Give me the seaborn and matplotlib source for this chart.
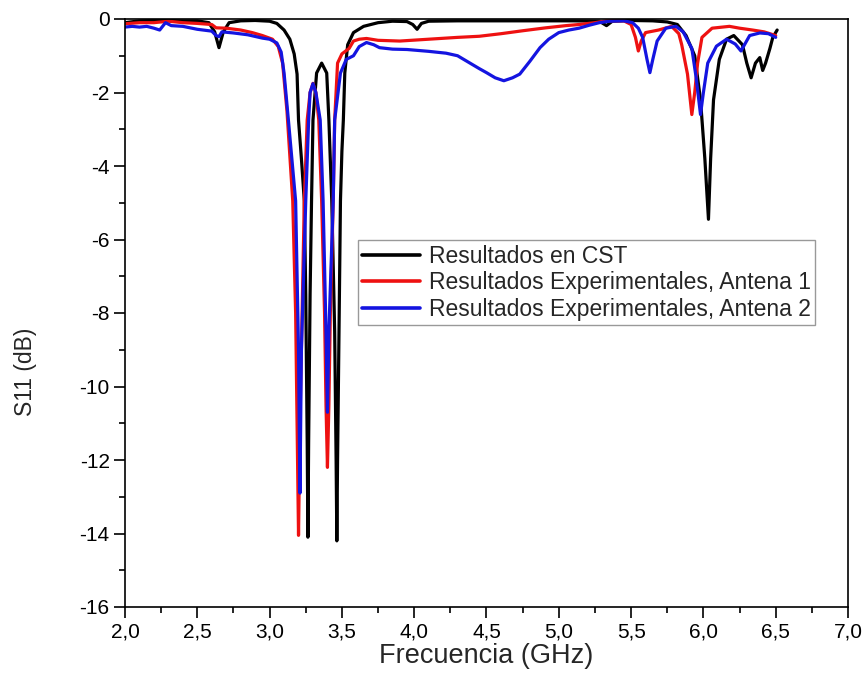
import matplotlib
matplotlib.use("Agg")
import matplotlib.pyplot as plt
from matplotlib.ticker import MultipleLocator, FuncFormatter
import seaborn as sns
import pandas as pd

# ---- data ----
freq_cst = [2.00, 2.10, 2.20, 2.30, 2.40, 2.50, 2.58, 2.62, 2.65, 2.68, 2.72, 2.80, 2.90,
            3.00, 3.05, 3.10, 3.14, 3.17, 3.19, 3.20, 3.22, 3.24, 3.25, 3.26, 3.265, 3.27,
            3.28, 3.29, 3.30, 3.325, 3.36, 3.395, 3.41, 3.43, 3.45, 3.46, 3.465, 3.47, 3.48,
            3.49, 3.50, 3.51, 3.52, 3.54, 3.58, 3.65, 3.75, 3.85, 3.95, 3.99, 4.02, 4.05,
            4.10, 4.30, 4.50, 4.70, 4.90, 5.10, 5.28, 5.33, 5.37, 5.50, 5.65, 5.75, 5.82,
            5.88, 5.94, 5.98, 6.01, 6.035, 6.05, 6.07, 6.11, 6.16, 6.21, 6.27, 6.30, 6.33,
            6.36, 6.39, 6.41, 6.43, 6.46, 6.48, 6.51]
s11_cst = [-0.10, -0.05, -0.04, -0.04, -0.05, -0.05, -0.10, -0.35, -0.78, -0.35, -0.10, -0.05, -0.04,
           -0.06, -0.12, -0.30, -0.55, -0.95, -1.50, -2.75, -3.80, -4.95, -7.50, -11.5, -14.1, -11.5,
           -7.50, -4.95, -2.75, -1.47, -1.20, -1.47, -2.75, -4.95, -8.50, -12.0, -14.2, -12.0, -8.50,
           -4.95, -3.60, -2.75, -1.47, -0.70, -0.37, -0.20, -0.10, -0.06, -0.07, -0.15, -0.28, -0.12,
           -0.06, -0.05, -0.05, -0.05, -0.05, -0.05, -0.06, -0.18, -0.06, -0.04, -0.05, -0.08, -0.15,
           -0.45, -1.00, -2.20, -3.80, -5.45, -3.80, -2.20, -1.10, -0.55, -0.45, -0.70, -1.20, -1.60,
           -1.20, -1.05, -1.40, -1.20, -0.80, -0.50, -0.30]

freq_ant1 = [2.00, 2.10, 2.20, 2.30, 2.40, 2.50, 2.60, 2.63, 2.70, 2.80, 2.88, 2.95, 3.02,
             3.06, 3.09, 3.12, 3.16, 3.18, 3.19, 3.20, 3.21, 3.22, 3.24, 3.26, 3.28, 3.30,
             3.32, 3.34, 3.36, 3.38, 3.39, 3.40, 3.41, 3.42, 3.44, 3.45, 3.47, 3.50, 3.55,
             3.58, 3.62, 3.67, 3.75, 3.90, 4.10, 4.30, 4.45, 4.60, 4.75, 4.91, 5.05, 5.14,
             5.25, 5.33, 5.45, 5.50, 5.53, 5.55, 5.57, 5.60, 5.69, 5.78, 5.83, 5.85, 5.89,
             5.92, 5.94, 5.96, 5.99, 6.06, 6.18, 6.25, 6.34, 6.42, 6.50]
s11_ant1 = [-0.13, -0.10, -0.10, -0.06, -0.10, -0.12, -0.15, -0.24, -0.25, -0.30, -0.37, -0.45, -0.55,
            -0.75, -1.20, -2.50, -4.95, -8.00, -11.0, -14.05, -11.0, -9.00, -4.95, -2.75, -2.00, -1.75,
            -2.00, -2.75, -4.95, -8.00, -10.5, -12.2, -10.5, -8.00, -4.95, -2.75, -1.20, -0.95, -0.80,
            -0.60, -0.55, -0.53, -0.58, -0.60, -0.55, -0.50, -0.47, -0.40, -0.32, -0.24, -0.18, -0.15,
            -0.10, -0.05, -0.05, -0.15, -0.50, -0.87, -0.60, -0.37, -0.30, -0.20, -0.40, -0.70, -1.50,
            -2.60, -2.00, -1.20, -0.50, -0.25, -0.20, -0.25, -0.30, -0.35, -0.45]

freq_ant2 = [2.00, 2.05, 2.10, 2.15, 2.20, 2.24, 2.28, 2.32, 2.40, 2.50, 2.60, 2.63, 2.65,
             2.67, 2.75, 2.85, 2.95, 3.00, 3.05, 3.08, 3.10, 3.13, 3.18, 3.20, 3.21, 3.22,
             3.25, 3.27, 3.28, 3.30, 3.32, 3.35, 3.37, 3.39, 3.40, 3.41, 3.44, 3.45, 3.49,
             3.53, 3.58, 3.62, 3.67, 3.72, 3.76, 3.85, 3.95, 4.10, 4.22, 4.30, 4.36, 4.45,
             4.50, 4.56, 4.62, 4.68, 4.73, 4.80, 4.87, 4.93, 5.00, 5.07, 5.14, 5.21, 5.28,
             5.35, 5.45, 5.51, 5.55, 5.58, 5.61, 5.63, 5.65, 5.68, 5.74, 5.81, 5.86, 5.92,
             5.95, 5.98, 6.00, 6.03, 6.09, 6.16, 6.22, 6.26, 6.32, 6.39, 6.45, 6.50]
s11_ant2 = [-0.22, -0.20, -0.22, -0.20, -0.25, -0.30, -0.10, -0.18, -0.20, -0.28, -0.33, -0.45, -0.48,
            -0.35, -0.38, -0.43, -0.52, -0.55, -0.65, -0.90, -1.47, -2.75, -4.95, -9.00, -12.9, -9.00,
            -4.95, -2.75, -2.00, -1.76, -2.00, -2.75, -4.95, -8.50, -10.7, -8.50, -4.95, -2.75, -1.47,
            -1.10, -1.00, -0.75, -0.64, -0.70, -0.78, -0.82, -0.83, -0.88, -0.93, -1.00, -1.14, -1.35,
            -1.46, -1.60, -1.68, -1.60, -1.50, -1.15, -0.78, -0.55, -0.37, -0.30, -0.25, -0.17, -0.10,
            -0.06, -0.05, -0.10, -0.25, -0.50, -1.10, -1.46, -1.10, -0.60, -0.25, -0.20, -0.35, -0.80,
            -1.60, -2.60, -2.00, -1.20, -0.74, -0.55, -0.68, -0.87, -0.45, -0.38, -0.40, -0.50]

labels = ["Resultados en CST",
          "Resultados Experimentales, Antena 1",
          "Resultados Experimentales, Antena 2"]
colors = ["#000000", "#ee1111", "#1414e0"]

x_ticks = [2.0, 2.5, 3.0, 3.5, 4.0, 4.5, 5.0, 5.5, 6.0, 6.5, 7.0]
y_ticks = [0, -2, -4, -6, -8, -10, -12, -14, -16]

# ---- style ----
sns.set_style("ticks")
plt.rcParams["font.family"] = ["Liberation Sans", "DejaVu Sans"]

fig = plt.figure(figsize=(8.65, 6.94), dpi=100)
ax = fig.add_axes([125/865, 1-607/694, 723/865, 588/694])

series = [(freq_cst, s11_cst), (freq_ant1, s11_ant1), (freq_ant2, s11_ant2)]
for (fx, fy), lab, col in zip(series, labels, colors):
    df = pd.DataFrame({"f": fx, "s": fy})
    sns.lineplot(data=df, x="f", y="s", ax=ax, color=col, lw=2.3, label=lab,
                 estimator=None, sort=False)

ax.set_xlim(2.0, 7.0)
ax.set_ylim(-16, 0)
ax.set_xticks(x_ticks)
ax.set_yticks(y_ticks)
ax.xaxis.set_minor_locator(MultipleLocator(0.25))
ax.yaxis.set_minor_locator(MultipleLocator(1))
ax.xaxis.set_major_formatter(FuncFormatter(lambda v, p: f"{v:.1f}".replace(".", ",")))
ax.yaxis.set_major_formatter(FuncFormatter(lambda v, p: f"{int(round(v))}"))

for sp in ax.spines.values():
    sp.set_linewidth(1.2)
    sp.set_color("black")
ax.tick_params(which="major", direction="out", length=8, width=1.2, labelsize=15,
               colors="black", pad=3)
ax.tick_params(which="minor", direction="out", length=4, width=1.2, colors="black")
ax.tick_params(top=False, right=False, which="both")

ax.set_xlabel("Frecuencia (GHz)", fontsize=19.5)
ax.set_ylabel("S11 (dB)", fontsize=16.5)
ax.xaxis.set_label_coords(0.5, -0.062)
ax.yaxis.set_label_coords(-0.122, 0.40)

leg = ax.legend(loc="upper left", bbox_to_anchor=(0.322, 0.624), borderaxespad=0,
                fontsize=16.5, frameon=True, fancybox=False, edgecolor="#808080",
                handlelength=2.5, handletextpad=0.4, labelspacing=0.15, borderpad=0.2)
leg.get_frame().set_linewidth(1.0)
for h in leg.get_lines():
    h.set_linewidth(2.6)

fig.savefig("out.png", dpi=100)
